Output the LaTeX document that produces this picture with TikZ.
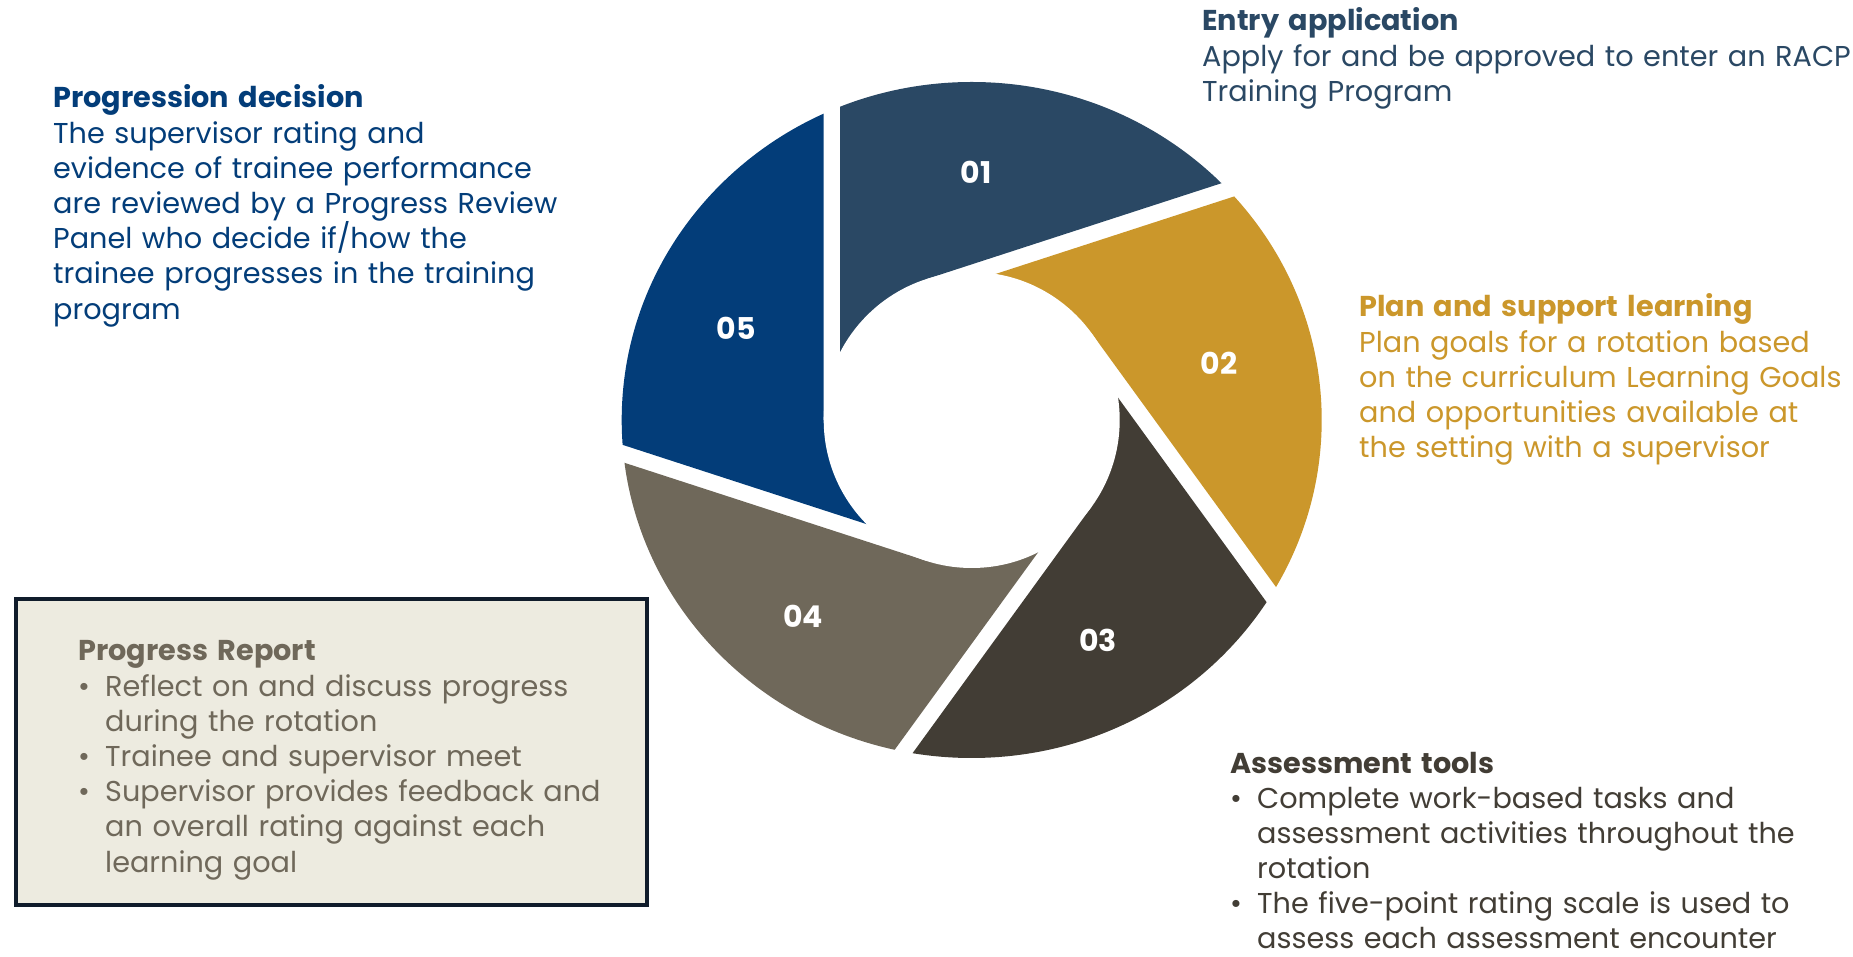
\documentclass[tikz,border=0pt]{standalone}
\usepackage{fontspec}
\setmainfont{Poppins}
\definecolor{segA}{HTML}{2A4864}
\definecolor{segB}{HTML}{CB972B}
\definecolor{segC}{HTML}{423D35}
\definecolor{segD}{HTML}{6F685A}
\definecolor{segE}{HTML}{033D79}
\definecolor{boxfill}{HTML}{EDEBE0}
\definecolor{boxline}{HTML}{101C2B}
\newcommand\bitem{\makebox[27pt][l]{\textbullet}}
\newcommand\bindent{\hspace*{27pt}}
\begin{document}
\begin{tikzpicture}[x=1pt,y=1pt,
  blocktext/.style={anchor=base west, inner sep=0pt, align=left, text width=750pt,
    font=\fontsize{28.7}{35.2}\selectfont},
  seglabel/.style={text=white, inner sep=0pt, font=\fontsize{30}{36}\selectfont\bfseries},
]
\useasboundingbox (0,0) rectangle (1853,956);
\coordinate (C) at (971.7,536);
% five ring pieces: each lies between an offset cut and the next tangent cut
\begin{scope}
  \clip (C) ellipse [x radius=350, y radius=338];
  \foreach \k/\col in {0/segA,1/segB,2/segC,3/segD,4/segE}{
    \fill[\col, shift={(C)}, rotate=-72*\k]
      (-131.5,0) -- (-45.73,140.76) -- (620,357.07) -- (-131.5,700) -- cycle;
  }
\end{scope}
\fill[white] (C) circle [radius=148];
% step numbers
\node[seglabel] (n01) at (976,784) {01};
\node[seglabel] (n02) at (1219,593) {02};
\node[seglabel] (n03) at (1098,316) {03};
\node[seglabel] (n04) at (803,340) {04};
\node[seglabel] (n05) at (736,628) {05};
% descriptions
\node[blocktext, text=segA] (entry) at (1202,925)
  {{\bfseries Entry application}\\Apply for and be approved to enter an RACP\\Training Program};
\node[blocktext, text=segB] (plan) at (1359,639)
  {{\bfseries Plan and support learning}\\Plan goals for a rotation based\\on the curriculum Learning Goals\\and opportunities available at\\the setting with a supervisor};
\node[blocktext, text=segC, font=\fontsize{28.7}{35}\selectfont] (assess) at (1230,182)
  {{\bfseries Assessment tools}\\\bitem Complete work-based tasks and\\\bindent assessment activities throughout the\\\bindent rotation\\\bitem The five-point rating scale is used to\\\bindent assess each assessment encounter};
\node[blocktext, text=segE] (decision) at (53,848)
  {{\bfseries Progression decision}\\The supervisor rating and\\evidence of trainee performance\\are reviewed by a Progress Review\\Panel who decide if/how the\\trainee progresses in the training\\program};
\node[draw=boxline, line width=4pt, fill=boxfill, minimum width=631pt, minimum height=306pt,
  anchor=south west, inner sep=0pt] (reportbox) at (14,49) {};
\node[blocktext, text=segD] (report) at (78,295)
  {{\bfseries Progress Report}\\\bitem Reflect on and discuss progress\\\bindent during the rotation\\\bitem Trainee and supervisor meet\\\bitem Supervisor provides feedback and\\\bindent an overall rating against each\\\bindent learning goal};
\end{tikzpicture}
\end{document}
